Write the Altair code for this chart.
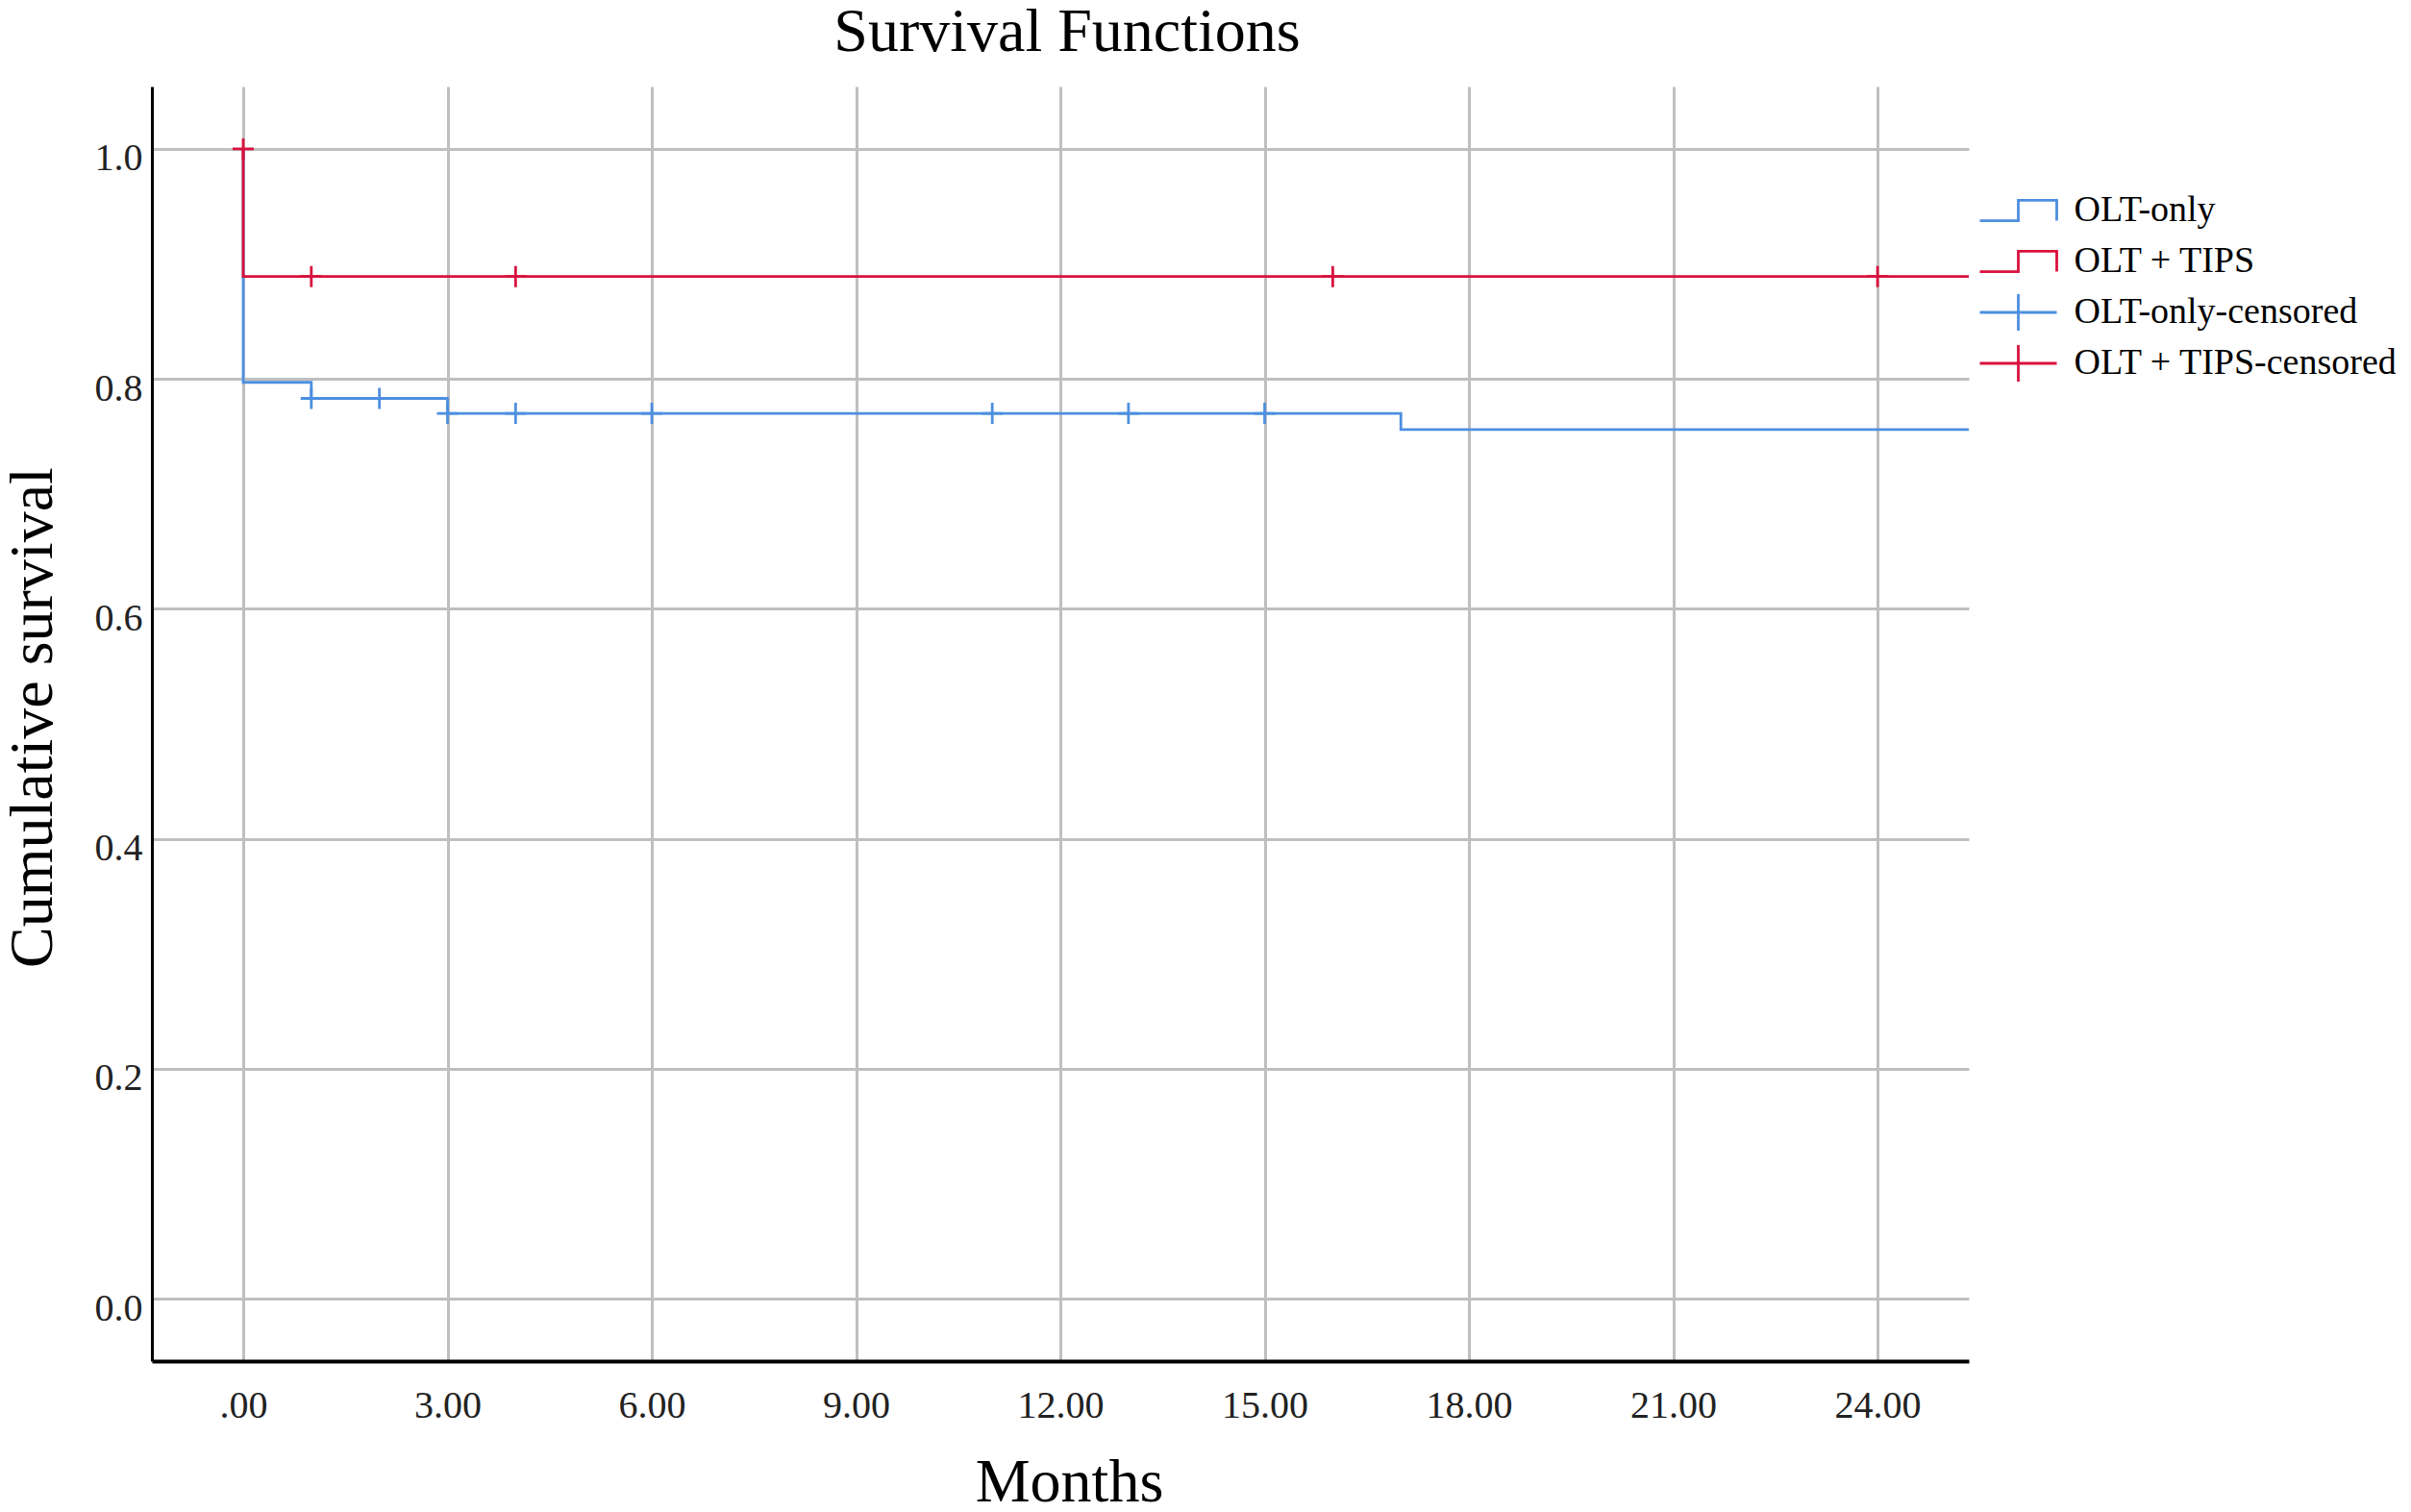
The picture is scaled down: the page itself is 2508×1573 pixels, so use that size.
import altair as alt
import pandas as pd

# ---- data ----
series_labels = ["OLT-only", "OLT + TIPS"]
censor_labels = ["OLT-only-censored", "OLT + TIPS-censored"]
legend_labels = ["OLT-only", "OLT + TIPS", "OLT-only-censored", "OLT + TIPS-censored"]
colors = ["#4d8fe0", "#d9113d", "#4d8fe0", "#d9113d"]

# Kaplan-Meier step points (time in months, cumulative survival)
olt_times = [0, 0, 1, 3, 17, 25.34]
olt_surv = [1.0, 0.797, 0.783, 0.770, 0.756, 0.756]
tips_times = [0, 0, 25.34]
tips_surv = [1.0, 0.889, 0.889]

# censored observations
olt_cens_times = [1, 2, 3, 4, 6, 11, 13, 15]
olt_cens_surv = [0.783, 0.783, 0.770, 0.770, 0.770, 0.770, 0.770, 0.770]
tips_cens_times = [0, 1, 4, 16, 24]
tips_cens_surv = [1.0, 0.889, 0.889, 0.889, 0.889]

x_ticks = [0, 3, 6, 9, 12, 15, 18, 21, 24]
y_ticks = [0.0, 0.2, 0.4, 0.6, 0.8, 1.0]
x_domain = [-1.341, 25.34]
y_domain = [-0.0543, 1.0543]

# ---- tables ----
rows = []
for lab, ts, ss in [(series_labels[0], olt_times, olt_surv), (series_labels[1], tips_times, tips_surv)]:
    for i, (t, s) in enumerate(zip(ts, ss)):
        rows.append({"label": lab, "time": t, "surv": s, "idx": i})
lines_df = pd.DataFrame(rows)

crows = []
for lab, ts, ss in [(censor_labels[0], olt_cens_times, olt_cens_surv), (censor_labels[1], tips_cens_times, tips_cens_surv)]:
    for t, s in zip(ts, ss):
        crows.append({"label": lab, "time": t, "surv": s})
cens_df = pd.DataFrame(crows)

FONT = "Liberation Serif"
color_scale = alt.Scale(domain=legend_labels, range=colors)

step_path = "M-2.5,0.66L0,0.66L0,-0.66L2.5,-0.66L2.5,0.66"
legend_cross = "M-2.5,0L2.5,0M0,-1.19L0,1.19"
plot_cross = "M-1,0L1,0M0,-1L0,1"

x_enc = alt.X(
    "time:Q",
    scale=alt.Scale(domain=x_domain, nice=False, zero=False),
    axis=alt.Axis(
        values=x_ticks,
        title="Months",
        labelExpr="datum.value == 0 ? '.00' : format(datum.value, '.2f')",
        labelPadding=26,
        titleX=954,
        titleY=145,
        titleBaseline="alphabetic",
        titleAnchor="middle",
        domainWidth=4,
    ),
)
y_enc = alt.Y(
    "surv:Q",
    scale=alt.Scale(domain=y_domain, nice=False, zero=False),
    axis=alt.Axis(
        values=y_ticks,
        format=".1f",
        title="Cumulative survival",
        labelPadding=10,
        labelOffset=10,
        titleX=-105,
        titleY=656,
        titleBaseline="alphabetic",
        titleAngle=270,
        titleAlign="center",
    ),
)

base_lines = alt.Chart(lines_df)
blue_line = base_lines.transform_filter(alt.datum.label == series_labels[0]).mark_line(
    interpolate="step-after", strokeWidth=2.8, clip=True
).encode(
    x=x_enc, y=y_enc,
    color=alt.Color("label:N", scale=color_scale, legend=None),
    order="idx:Q",
)
red_line = base_lines.transform_filter(alt.datum.label == series_labels[1]).mark_line(
    interpolate="step-after", strokeWidth=2.8, clip=True
).encode(
    x="time:Q", y="surv:Q",
    color=alt.Color("label:N", scale=color_scale, legend=None),
    order="idx:Q",
)

cens_points = alt.Chart(cens_df).mark_point(
    filled=False, size=484, strokeWidth=2.8, opacity=1
).encode(
    x="time:Q", y="surv:Q",
    color=alt.Color("label:N", scale=color_scale, legend=None),
    shape=alt.value(plot_cross),
)

legend_obj = alt.Legend(
    title=None,
    orient="none",
    legendX=1900,
    legendY=110,
    symbolSize=1024,
    symbolStrokeWidth=2.8,
    symbolOffset=22.5,
    symbolOpacity=1,
    labelOffset=39,
    labelFont=FONT,
    labelFontSize=38,
    labelColor="black",
    labelLimit=600,
    rowPadding=3,
    gridAlign="all",
    padding=0,
)
legend_layer = alt.Chart(cens_df).mark_point(filled=False, opacity=0.001).encode(
    x="time:Q", y="surv:Q",
    color=alt.Color("label:N", scale=color_scale, legend=legend_obj),
    shape=alt.Shape("label:N", scale=alt.Scale(domain=legend_labels,
                    range=[step_path, step_path, legend_cross, legend_cross]), legend=legend_obj),
)

chart = alt.layer(blue_line, cens_points.transform_filter(alt.datum.label == censor_labels[0]),
                  red_line, cens_points.transform_filter(alt.datum.label == censor_labels[1]),
                  legend_layer).resolve_legend(
    color="independent", shape="independent"
).properties(
    width=1890,
    height=1326,
    title=alt.TitleParams(
        "Survival Functions", font=FONT, fontSize=64, fontWeight="normal",
        color="black", anchor="middle", offset=24, dx=7,
    ),
    autosize=alt.AutoSizeParams(type="none"),
    padding={"left": 150, "top": 82, "right": 444, "bottom": 149},
).configure_view(stroke=None).configure_axis(
    domainColor="black",
    domainWidth=3,
    grid=True,
    gridColor="#bfbfbf",
    gridWidth=3,
    ticks=False,
    tickSize=0,
    labelFont=FONT,
    labelFontSize=40,
    labelColor="#222222",
    titleFont=FONT,
    titleFontSize=64,
    titleFontWeight="normal",
    titleColor="black",
)

chart.save("out.html", embed_options={"renderer": "svg", "actions": False})
